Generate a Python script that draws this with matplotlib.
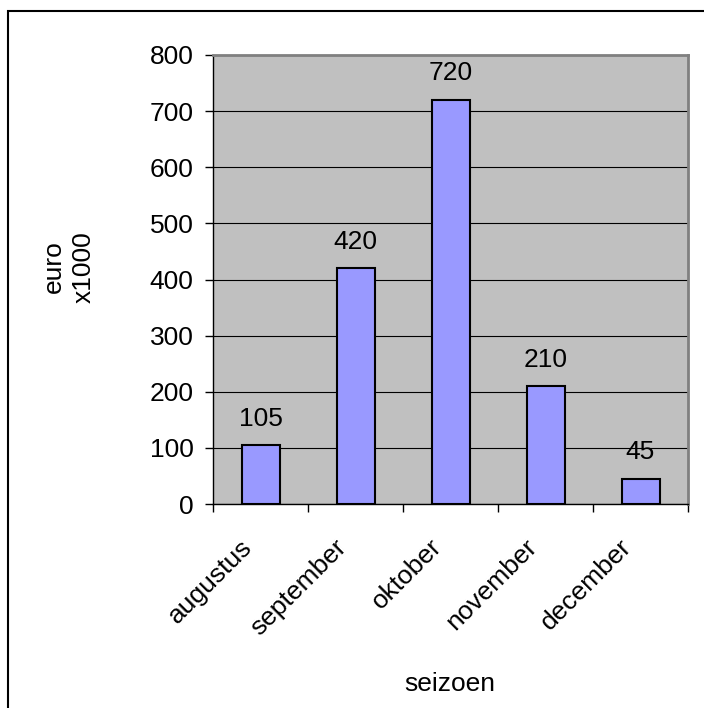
import matplotlib
matplotlib.use('Agg')
import matplotlib.pyplot as plt
import matplotlib.transforms as mtransforms
import numpy as np
from matplotlib.patches import Rectangle

months = ['augustus', 'september', 'oktober', 'november', 'december']
omzet = [105, 420, 720, 210, 45]
y_ticks = [0, 100, 200, 300, 400, 500, 600, 700, 800]

plt.rcParams['font.family'] = ['Liberation Sans', 'DejaVu Sans']
fs = 19

fig = plt.figure(figsize=(7.04, 7.08), dpi=100)
# border of the chart area (only left and top are visible in the picture)
fig.patches.append(Rectangle((8 / 704, -0.1), 1.2, 1 - 11 / 708 + 0.1,
                             transform=fig.transFigure, fill=False,
                             edgecolor='black', linewidth=1.5))

ax = fig.add_axes([213 / 704, 1 - 504 / 708, (688 - 213) / 704, (504 - 55) / 708])
ax.set_facecolor('#C0C0C0')

x = np.arange(len(months))
ax.bar(x, omzet, width=0.4, color='#9999FF', edgecolor='black',
       linewidth=1.5, zorder=3)
for xi, v in zip(x, omzet):
    ax.annotate(str(v), (xi, v), xytext=(0, 14), textcoords='offset points',
                ha='center', va='baseline', fontsize=fs)

ax.set_xlim(-0.5, len(months) - 0.5)
ax.set_ylim(0, 800)
ax.set_yticks(y_ticks)
ax.yaxis.grid(True, color='black', linewidth=0.8, zorder=1)
ax.set_axisbelow(True)

ax.set_xticks(x)
ax.set_xticklabels(months, rotation=45, ha='right', va='top',
                   rotation_mode='anchor', fontsize=fs)
ax.set_xticks(np.arange(len(months) + 1) - 0.5, minor=True)
ax.tick_params(axis='x', which='major', length=0, pad=22)
ax.tick_params(axis='x', which='minor', length=6, width=1, color='black')
ax.tick_params(axis='y', length=6, width=1, labelsize=fs, pad=8)

# shift the slanted month labels a bit to the left, as in the original
shift = mtransforms.ScaledTranslation(-21 / 100, 0, fig.dpi_scale_trans)
for lab in ax.get_xticklabels():
    lab.set_transform(lab.get_transform() + shift)

for side in ['top', 'right']:
    ax.spines[side].set_color('#808080')
    ax.spines[side].set_linewidth(2)
for side in ['left', 'bottom']:
    ax.spines[side].set_color('black')
    ax.spines[side].set_linewidth(1)

fig.text(69 / 704, 1 - 267 / 708, 'euro\nx1000', rotation=90, ha='center',
         va='center', fontsize=fs, multialignment='center', linespacing=1.3)
fig.text(450 / 704, 1 - 684 / 708, 'seizoen', ha='center', va='center',
         fontsize=fs)

fig.savefig('out.png', dpi=100)
